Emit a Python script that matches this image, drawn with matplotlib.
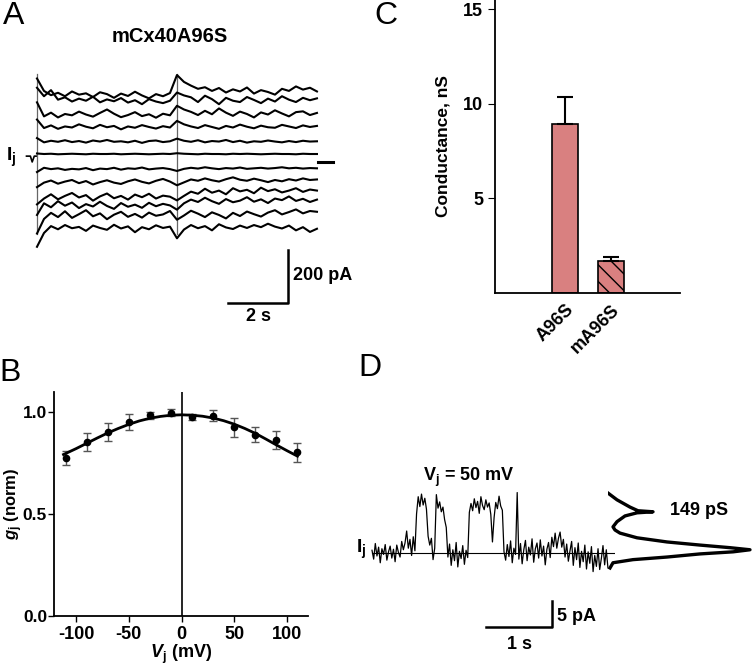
import numpy as np
import matplotlib
matplotlib.use("Agg")
import matplotlib.pyplot as plt

plt.rcParams['font.family'] = ['Liberation Sans', 'DejaVu Sans']
plt.rcParams['font.weight'] = 'bold'
plt.rcParams['axes.unicode_minus'] = False
plt.rcParams['mathtext.fontset'] = 'custom'
plt.rcParams['mathtext.rm'] = 'Liberation Sans:bold'
plt.rcParams['mathtext.it'] = 'Liberation Sans:italic:bold'
plt.rcParams['mathtext.bf'] = 'Liberation Sans:bold'
plt.rcParams['hatch.linewidth'] = 1.0

# ---- panel A: junctional currents (pA), sampled every dt_a seconds
dt_a = 0.2333
step_times = [0.0, 4.67]
traces_a = [
    [285, 238, 222, 231, 218, 236, 224, 229, 215, 233, 226, 212, 228, 219, 235, 221, 210, 226, 218, 230,
     298, 272, 258, 246, 252, 238, 249, 232, 244, 236, 251, 228, 241, 234, 224, 246, 238, 255, 243, 250, 236],
    [250, 218, 241, 205, 214, 198, 209, 201, 216, 195, 206, 199, 211, 194, 203, 188, 207, 198, 192, 201,
     232, 221, 214, 196, 220, 207, 188, 212, 201, 196, 215, 204, 192, 209, 198, 218, 205, 196, 212, 203, 210],
    [195, 142, 156, 138, 151, 146, 160, 149, 141, 155, 168, 152, 139, 147, 158, 143, 150, 137, 152, 146,
     182, 168, 159, 147, 163, 150, 172, 156, 144, 160, 151, 138, 157, 149, 165, 153, 142, 158, 161, 147, 155],
    [130, 98, 108, 95, 104, 100, 112, 103, 97, 110, 101, 106, 93, 104, 99, 109, 102, 96, 105, 100,
     125, 112, 104, 98, 109, 102, 95, 106, 100, 111, 103, 97, 107, 101, 99, 110, 104, 98, 108, 102, 106],
    [60, 44, 50, 46, 52, 45, 49, 43, 51, 47, 53, 46, 48, 44, 50, 42, 49, 51, 45, 48,
     58, 50, 46, 52, 44, 49, 47, 53, 45, 50, 43, 48, 46, 51, 47, 44, 49, 45, 50, 47, 48],
    [2, 0, 1, -1, 0, 1, 0, -1, 1, 0, 0, 1, -1, 0, 1, 0, -1, 0, 1, 0,
     3, 1, 0, -1, 1, 0, 0, -1, 1, 0, 1, 0, -1, 0, 1, 0, 0, -1, 1, 0, 0],
    [-68, -52, -57, -54, -60, -56, -58, -53, -61, -55, -57, -52, -59, -54, -56, -51, -58, -55, -53, -57,
     -64, -56, -52, -55, -50, -54, -57, -53, -55, -51, -56, -54, -52, -55, -53, -50, -54, -52, -55, -53, -54],
    [-125, -108, -100, -112, -104, -98, -110, -102, -115, -106, -99, -108, -113, -103, -96, -105, -111, -101, -94, -104,
     -118, -107, -96, -101, -92, -99, -104, -95, -88, -97, -101, -93, -99, -106, -98, -103, -95, -100, -92, -98, -96],
    [-190, -168, -152, -171, -158, -147, -164, -155, -176, -160, -149, -167, -158, -172, -153, -163, -150, -168, -157, -161,
     -175, -158, -142, -150, -131, -146, -138, -152, -129, -141, -135, -148, -127, -140, -133, -145, -138, -129, -143, -134, -138],
    [-230, -186, -201, -178, -195, -183, -204, -189, -198, -180, -196, -207, -185, -199, -191, -203, -184, -197, -188, -194,
     -210, -186, -172, -181, -165, -178, -188, -170, -182, -176, -163, -180, -171, -185, -168, -174, -160, -177, -169, -181, -172],
    [-300, -245, -222, -238, -216, -241, -227, -212, -235, -224, -246, -229, -218, -237, -226, -240, -221, -233, -228, -215,
     -248, -232, -214, -225, -238, -220, -230, -243, -222, -234, -217, -227, -236, -221, -212, -228, -219, -209, -224, -215, -218],
    [-350, -298, -272, -284, -268, -280, -275, -290, -270, -279, -286, -267, -281, -273, -295, -276, -284, -269, -279, -274,
     -318, -285, -268, -280, -272, -288, -265, -277, -283, -270, -279, -268, -276, -263, -274, -281, -270, -288, -276, -294, -282],
]
pre_t = [-0.35, -0.22, -0.16, -0.09, -0.03]
pre_i = [-8, -8, -30, -8, -8]
hold_t = [9.37, 9.87]
hold_i = [-30, -30]

# ---- panel B: gj-Vj relation
vj = [-110, -90, -70, -50, -30, -10, 10, 30, 50, 70, 90, 110]
gj = [0.776, 0.854, 0.903, 0.951, 0.985, 0.998, 0.977, 0.984, 0.926, 0.890, 0.864, 0.804]
gj_err = [0.034, 0.046, 0.045, 0.039, 0.016, 0.018, 0.015, 0.028, 0.047, 0.036, 0.043, 0.047]
fit_v = [-112, -100, -90, -80, -70, -60, -50, -40, -30, -20, -10, 0,
         10, 20, 30, 40, 50, 60, 70, 80, 90, 100, 110]
fit_g = [0.793, 0.822, 0.848, 0.874, 0.899, 0.921, 0.941, 0.958, 0.971, 0.980, 0.986, 0.988,
         0.986, 0.981, 0.972, 0.959, 0.942, 0.921, 0.897, 0.869, 0.840, 0.812, 0.785]

# ---- panel C: conductance
groups = ['A96S', 'mA96S']
cond = [8.95, 1.7]
cond_err = [1.42, 0.2]

# ---- panel D: single channel record (pA), sampled every dt_d seconds
dt_d = 0.025
ij_d = [0.5, -1.2, 1.8, -0.6, 1.1, -1.9, 0.8, -0.3, 1.6, -1.4, 0.2, 1.3, -1.0, 0.7, -1.7, 1.5, 0.1, -0.8,
        2.2, 0.6, 1.9, 4.2, 0.9, 2.6, -0.5, 3.1, 0.4,
        7.5, 10.8, 8.9, 11.3, 9.2, 10.5, 8.4,
        3.2, 1.5, 2.8, -1.3, 0.9,
        11.2, 8.6, 9.8, 7.9, 8.8, 6.4, 4.9,
        -0.8, 1.7, -2.4, 0.6, -1.5, 2.0, -2.7, 0.3, -1.1, 1.4, -2.2, 0.5, -0.9,
        7.8, 9.5, 8.1, 10.4, 8.7, 9.9, 7.6, 10.8, 9.1, 8.3, 10.2, 8.8, 9.6, 7.4, 2.1, 6.8, 9.7, 8.5, 10.9, 9.0, 8.2,
        0.2, -1.4, 1.6, -0.7, 2.3, -1.9, 0.9, -0.3, 11.6, -1.2, 1.8, -2.1, 0.6, 2.4, -1.5, 1.1, -0.4, 2.7,
        -1.8, 0.8, 1.9, -1.0, 2.5, -0.6, 1.3, -2.3, 0.7, 2.0, -0.9, 3.0, 1.2, 3.8, 0.9, 2.8, 4.0, 1.1, 2.6,
        -0.8, 1.7, -1.6, 0.4, 2.2, -2.4, 1.0, -1.3, 1.9, -2.8, 0.3, -1.7, 1.5, -3.1, 0.2, -2.0, 1.2, -3.6,
        -0.5, -2.6, 0.8, -3.2, -1.1, 1.4, -2.3, 0.6, -2.9]
hist_i = [11.5, 10.2, 8.8, 8.1, 7.9, 7.7, 7.1, 6.0, 5.0, 4.4, 3.8, 2.9, 2.1, 1.5, 1.0, 0.6, 0.2,
          -0.2, -0.8, -1.3, -1.9, -2.9]
hist_n = [0, 9, 22, 30, 45, 29, 17, 9, 5, 7, 12, 29, 59, 92, 122, 142, 125, 92, 59, 25, 5, 2]

W, H = 753, 672
fig = plt.figure(figsize=(W / 100, H / 100), dpi=100)


def px_axes(x0, y0, x1, y1):
    return fig.add_axes([x0 / W, 1 - y1 / H, (x1 - x0) / W, (y1 - y0) / H])


# ===== A =====
axA = px_axes(0, 60, 370, 330)
axA.set_xlim(-1.233, 11.1)
axA.set_ylim(-664, 354.7)
axA.axis('off')
for s in step_times:
    axA.plot([s, s], [-300, 300], color='#666666', lw=0.9)
for tr in traces_a:
    t = np.arange(len(tr)) * dt_a
    axA.plot(t, tr, color='black', lw=1.5)
axA.plot(pre_t, pre_i, color='black', lw=1.2)
axA.plot(hold_t, hold_i, color='black', lw=2.2)
axA.plot([6.367, 8.367, 8.367], [-562, -562, -362], color='black', lw=1.8)
axA.text(8.55, -457, '200 pA', fontsize=13, fontweight='bold', va='center', ha='left')
axA.text(7.37, -612, '2 s', fontsize=13, fontweight='bold', va='center', ha='center')
fig.text(170 / W, 1 - 36 / H, 'mCx40A96S', fontsize=14.5, fontweight='bold', ha='center', va='center')
fig.text(11 / W, 1 - 157 / H, r'I$_\mathrm{j}$', fontsize=14, ha='center', va='center')
fig.text(14 / W, 1 - 16 / H, 'A', fontsize=23, fontweight='normal', ha='center', va='center')

# ===== B =====
axB = px_axes(54, 392, 308, 616)
axB.errorbar(vj, gj, yerr=gj_err, fmt='o', color='black', ms=4.5,
             ecolor='#555555', elinewidth=1.0, capsize=3, capthick=1.0, zorder=3)
axB.plot(fit_v, fit_g, color='black', lw=2.0, zorder=4)
axB.axvline(0, color='black', lw=1.2)
axB.set_xlim(-121, 120)
axB.set_ylim(0, 1.1)
axB.set_xticks([-100, -50, 0, 50, 100])
axB.set_yticks([0.0, 0.5, 1.0])
axB.set_yticklabels(['0.0', '0.5', '1.0'])
for sp in ['top', 'right']:
    axB.spines[sp].set_visible(False)
for sp in ['left', 'bottom']:
    axB.spines[sp].set_linewidth(1.3)
axB.tick_params(axis='x', direction='out', length=4, width=1.0, labelsize=13, pad=3)
axB.tick_params(axis='y', direction='out', length=4, width=1.0, labelsize=12.5, pad=1)
axB.set_xlabel(r'$V_\mathrm{j}$ (mV)', fontsize=13, fontweight='bold', labelpad=0)
axB.set_ylabel(r'$g_\mathrm{j}$ (norm)', fontsize=12, fontweight='bold')
axB.yaxis.set_label_coords(-0.115, 0.5)
fig.text(10 / W, 1 - 373 / H, 'B', fontsize=23, fontweight='normal', ha='center', va='center')

# ===== C =====
axC = px_axes(495, 0, 680, 293)
xpos = np.arange(len(groups))
bars = axC.bar(xpos, cond, width=0.58, color='#d98080', edgecolor='black', linewidth=1.2)
bars[1].set_hatch('\\\\')
axC.errorbar(xpos, cond, yerr=[[0, 0], cond_err], fmt='none', ecolor='black',
             elinewidth=1.5, capsize=6, capthick=1.5)
axC.set_xlim(-1.52, 2.5)
axC.set_ylim(0, 15.5)
axC.set_yticks([5, 10, 15])
axC.set_xticks(xpos)
axC.set_xticklabels(groups, rotation=45, ha='right', rotation_mode='anchor')
for sp in ['top', 'right']:
    axC.spines[sp].set_visible(False)
for sp in ['left', 'bottom']:
    axC.spines[sp].set_linewidth(1.3)
axC.tick_params(axis='y', direction='out', length=5, labelsize=13)
axC.tick_params(axis='x', length=0, labelsize=13, pad=6)
axC.set_ylabel('Conductance, nS', fontsize=12.5, fontweight='bold', labelpad=9)
fig.text(386 / W, 1 - 16 / H, 'C', fontsize=23, fontweight='normal', ha='center', va='center')

# ===== D =====
axD = px_axes(360, 440, 615, 672)
axD.set_xlim(-0.182, 3.682)
axD.set_ylim(-22.9, 21.7)
axD.axis('off')
td = np.arange(len(ij_d)) * dt_d
axD.plot(td, ij_d, color='black', lw=0.9)
axD.plot([0, 3.68], [0, 0], color='black', lw=0.8)
axD.plot([1.727, 2.727, 2.727], [-14.23, -14.23, -9.23], color='black', lw=1.8)
axD.text(2.80, -12.3, '5 pA', fontsize=13, fontweight='bold', va='center', ha='left')
axD.text(2.24, -17.6, '1 s', fontsize=13, fontweight='bold', va='center', ha='center')
axD.text(1.47, 14.6, r'V$_\mathrm{j}$ = 50 mV', fontsize=13, fontweight='bold', ha='center', va='center')
fig.text(361 / W, 1 - 549 / H, r'I$_\mathrm{j}$', fontsize=14, ha='center', va='center')
fig.text(370 / W, 1 - 368 / H, 'D', fontsize=23, fontweight='normal', ha='center', va='center')

axH = px_axes(608, 440, 753, 672)
axH.set_xlim(0, 145)
axH.set_ylim(-22.9, 21.7)
axH.axis('off')
axH.plot(hist_n, hist_i, color='black', lw=2.4, solid_joinstyle='round')
axH.text(62, 8.1, '149 pS', fontsize=13, fontweight='bold', va='center', ha='left')

fig.savefig('out.png', dpi=100)
